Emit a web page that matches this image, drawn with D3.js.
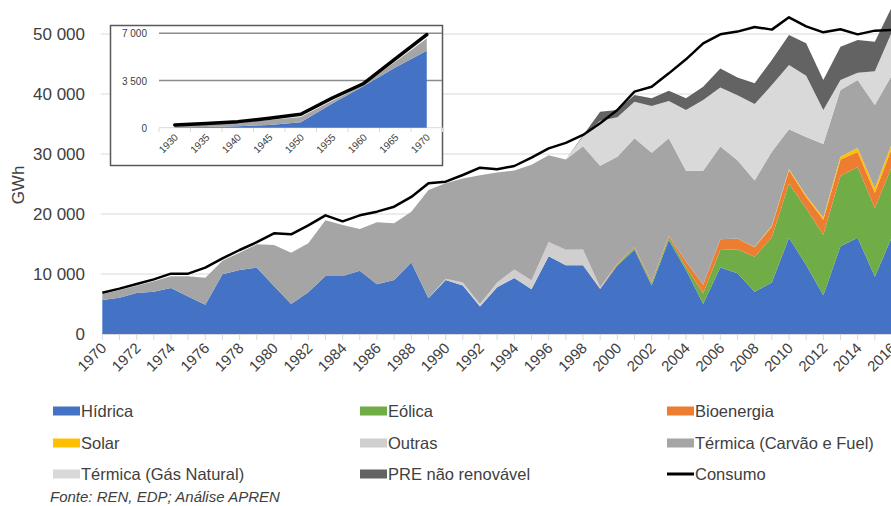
<!DOCTYPE html>
<html>
<head>
<meta charset="utf-8">
<script src="https://cdn.jsdelivr.net/npm/d3@7"></script>
<style>
body { margin: 0; background: #fff; }
svg text { font-family: "Liberation Sans", Arial, sans-serif; fill: #404040; }
</style>
</head>
<body>
<div id="chart"></div>
<script>
// ---- data (GWh) ----
var years = [1970,1971,1972,1973,1974,1975,1976,1977,1978,1979,
  1980,1981,1982,1983,1984,1985,1986,1987,1988,1989,
  1990,1991,1992,1993,1994,1995,1996,1997,1998,1999,
  2000,2001,2002,2003,2004,2005,2006,2007,2008,2009,
  2010,2011,2012,2013,2014,2015,2016];

var hidrica = [5670,6060,6830,7060,7670,6230,4890,9940,10670,11060,
  8000,5000,6950,9670,9670,10550,8300,9000,11900,5940,
  9000,8100,4600,7800,9330,7440,12950,11450,11450,7500,
  11400,14050,8100,15670,10670,5050,11100,10110,7060,8580,
  16050,11500,6450,14620,16050,9560,16200];

var eolica = [0,0,0,0,0,0,0,0,0,0,
  0,0,0,0,0,0,0,0,0,0,
  0,0,0,0,0,0,0,0,0,0,
  150,250,350,450,500,1750,2900,4000,5800,7550,
  9050,9400,10100,11750,11800,11400,11800];

var bioenergia = [0,0,0,0,0,0,0,0,0,0,
  0,0,0,0,0,0,0,0,0,0,
  0,0,0,0,0,0,0,0,0,100,
  200,200,200,250,900,1400,1800,1800,1600,1780,
  2200,1950,2500,2700,2500,2600,3000];

var solar = [0,0,0,0,0,0,0,0,0,0,
  0,0,0,0,0,0,0,0,0,0,
  0,0,0,0,0,0,0,0,0,0,
  0,0,0,0,0,0,0,0,50,150,
  200,250,350,500,650,750,850];

var outras = [0,0,0,0,0,0,0,0,0,0,
  0,0,0,0,0,0,0,0,0,0,
  200,500,400,800,1400,1500,2400,2600,2650,200,
  0,0,0,0,0,0,0,0,0,0,
  0,0,0,0,0,0,0];

var termicaCF = [940,1270,1230,1720,1940,3380,4500,2280,2890,3880,
  6830,8560,8160,9280,8500,6950,10310,9440,8490,18060,
  15910,17300,21450,18300,16520,19260,14430,15050,17200,20250,
  17810,18110,21570,16240,15150,19020,15470,13060,11090,12330,
  6610,9730,12270,11100,11330,13860,11320];

var termicaGN = [0,0,0,0,0,0,0,0,0,0,
  0,0,0,0,0,0,0,0,0,0,
  0,0,0,0,0,0,0,0,1600,7500,
  6550,6110,7780,6220,10110,11780,9800,10830,12730,11110,
  10720,10200,5660,1660,1230,5610,7220];

var preNR = [0,0,0,0,0,0,0,0,0,0,
  0,0,0,0,0,0,0,0,0,0,
  0,0,0,0,0,0,0,0,200,1490,
  1220,1110,1280,1730,1950,2220,3170,2950,3450,4170,
  5000,5440,5000,5560,5440,4940,4170];

var consumo = [6890,7560,8330,9110,10060,10060,11060,12610,14000,15300,
  16780,16610,18100,19780,18780,19780,20390,21220,22850,25110,
  25390,26500,27720,27450,28000,29390,30940,31850,33170,35110,
  37330,40390,41220,43440,45780,48440,49950,50400,51170,50730,
  52780,51280,50280,50780,49940,50560,50670];

var yTicks = [0, 10000, 20000, 30000, 40000, 50000];

// inset 1930-1970
var insetYears = [1930,1935,1940,1945,1950,1955,1960,1965,1970];
var insetHidrica = [30,60,110,200,400,1800,3100,4470,5700];
var insetTermica = [150,210,260,370,390,190,70,420,920];
var insetConsumo = [200,320,450,700,1000,2200,3280,5100,6900];
var insetYTicks = [0, 3500, 7000];

var seriesKeys = ["hidrica","eolica","bioenergia","solar","outras","termicaCF","termicaGN","preNR"];
var seriesNames = {
  hidrica: "Hídrica", eolica: "Eólica", bioenergia: "Bioenergia", solar: "Solar",
  outras: "Outras", termicaCF: "Térmica (Carvão e Fuel)", termicaGN: "Térmica (Gás Natural)",
  preNR: "PRE não renovável"
};
var colors = {
  hidrica: "#4472c4", eolica: "#70ad47", bioenergia: "#ed7d31", solar: "#ffc000",
  outras: "#d0cece", termicaCF: "#a5a5a5", termicaGN: "#d9d9d9", preNR: "#636363"
};

// ---- chart ----
var width = 891, height = 506;
var fmt = function(d) { return d3.format(",")(d).replace(/,/g, " "); };

var svg = d3.select("#chart").append("svg")
  .attr("width", width)
  .attr("height", height);

var x = d3.scaleLinear().domain([1970, 2016]).range([102.3, 892]);
var y = d3.scaleLinear().domain([0, 50000]).range([334, 34]);

var rows = years.map(function(yr, i) {
  return {
    year: yr, hidrica: hidrica[i], eolica: eolica[i], bioenergia: bioenergia[i],
    solar: solar[i], outras: outras[i], termicaCF: termicaCF[i],
    termicaGN: termicaGN[i], preNR: preNR[i], consumo: consumo[i]
  };
});

// gridlines
svg.selectAll(".grid")
  .data(yTicks.slice(1))
  .enter().append("line")
  .attr("class", "grid")
  .attr("x1", 101).attr("x2", width)
  .attr("y1", function(d) { return y(d); })
  .attr("y2", function(d) { return y(d); })
  .style("stroke", "#d9d9d9")
  .style("stroke-width", 1);

// stacked areas
var stack = d3.stack().keys(seriesKeys);
var layers = stack(rows);

var area = d3.area()
  .x(function(d) { return x(d.data.year); })
  .y0(function(d) { return y(d[0]); })
  .y1(function(d) { return y(d[1]); });

svg.selectAll(".layer")
  .data(layers)
  .enter().append("path")
  .attr("class", "layer")
  .style("fill", function(d) { return colors[d.key]; })
  .attr("d", area);

// x axis line + ticks
svg.append("line")
  .attr("x1", 102).attr("x2", width)
  .attr("y1", 334.5).attr("y2", 334.5)
  .style("stroke", "#d9d9d9");

svg.selectAll(".xtick")
  .data(years)
  .enter().append("line")
  .attr("class", "xtick")
  .attr("x1", function(d) { return x(d); })
  .attr("x2", function(d) { return x(d); })
  .attr("y1", 334).attr("y2", 340)
  .style("stroke", "#d9d9d9");

svg.selectAll(".xlabel")
  .data(years.filter(function(d) { return d % 2 === 0; }))
  .enter().append("text")
  .attr("class", "xlabel")
  .attr("text-anchor", "end")
  .attr("transform", function(d) { return "translate(" + (x(d) + 5) + ",349) rotate(-45)"; })
  .style("font-size", "15px")
  .text(function(d) { return d; });

// y labels
svg.selectAll(".ylabel")
  .data(yTicks)
  .enter().append("text")
  .attr("class", "ylabel")
  .attr("text-anchor", "end")
  .attr("x", 85)
  .attr("y", function(d) { return y(d) + 6; })
  .style("font-size", "17px")
  .text(fmt);

svg.append("text")
  .attr("transform", "translate(24,185) rotate(-90)")
  .attr("text-anchor", "middle")
  .style("font-size", "17px")
  .text("GWh");

// consumption line
var line = d3.line()
  .x(function(d) { return x(d.year); })
  .y(function(d) { return y(d.consumo); });

svg.append("path")
  .datum(rows)
  .attr("d", line)
  .style("fill", "none")
  .style("stroke", "#000")
  .style("stroke-width", 2.5)
  .style("stroke-linejoin", "round");

// ---- inset ----
var inset = svg.append("g");
inset.append("rect")
  .attr("x", 110.5).attr("y", 25.5)
  .attr("width", 332).attr("height", 140)
  .style("fill", "#fff")
  .style("stroke", "#595959")
  .style("stroke-width", 1.5);

var ix = d3.scaleBand().domain(insetYears).range([159, 442.5]);
var iy = d3.scaleLinear().domain([0, 7000]).range([127.7, 33.3]);
var icx = function(d) { return ix(d) + ix.bandwidth() / 2; };

inset.selectAll(".igrid")
  .data(insetYTicks)
  .enter().append("line")
  .attr("x1", 159).attr("x2", function(d) { return d === 0 ? 442.5 : 442; })
  .attr("y1", function(d) { return iy(d); })
  .attr("y2", function(d) { return iy(d); })
  .style("stroke", function(d) { return d === 0 ? "#d9d9d9" : "#8c8c8c"; })
  .style("stroke-width", function(d) { return d === 0 ? 1 : 1.5; });

inset.selectAll(".itick")
  .data(insetYears.concat([null]))
  .enter().append("line")
  .attr("x1", function(d, i) { return 159 + i * ix.bandwidth(); })
  .attr("x2", function(d, i) { return 159 + i * ix.bandwidth(); })
  .attr("y1", 128).attr("y2", 132)
  .style("stroke", "#d9d9d9");

var irows = insetYears.map(function(yr, i) {
  return { year: yr, hidrica: insetHidrica[i], termica: insetTermica[i], consumo: insetConsumo[i] };
});
var ilayers = d3.stack().keys(["hidrica", "termica"])(irows);
var iarea = d3.area()
  .x(function(d) { return icx(d.data.year); })
  .y0(function(d) { return iy(d[0]); })
  .y1(function(d) { return iy(d[1]); });

inset.selectAll(".ilayer")
  .data(ilayers)
  .enter().append("path")
  .style("fill", function(d) { return d.key === "hidrica" ? colors.hidrica : colors.termicaCF; })
  .attr("d", iarea);

inset.append("path")
  .datum(irows)
  .attr("d", d3.line()
    .x(function(d) { return icx(d.year); })
    .y(function(d) { return iy(d.consumo); }))
  .style("fill", "none")
  .style("stroke", "#000")
  .style("stroke-width", 3.5)
  .style("stroke-linejoin", "round")
  .style("stroke-linecap", "round");

inset.selectAll(".iylabel")
  .data(insetYTicks)
  .enter().append("text")
  .attr("text-anchor", "end")
  .attr("x", 147)
  .attr("y", function(d) { return iy(d) + 4; })
  .style("font-size", "10px")
  .text(fmt);

inset.selectAll(".ixlabel")
  .data(insetYears)
  .enter().append("text")
  .attr("text-anchor", "end")
  .attr("transform", function(d) { return "translate(" + (icx(d) + 4) + ",138) rotate(-45)"; })
  .style("font-size", "10px")
  .text(function(d) { return d; });

// ---- legend ----
var legendItems = seriesKeys.concat(["consumo"]);
var colX = [53, 360, 667];
var rowY = [411, 443, 474];

var legend = svg.selectAll(".legend")
  .data(legendItems)
  .enter().append("g")
  .attr("class", "legend")
  .attr("transform", function(d, i) {
    return "translate(" + colX[i % 3] + "," + rowY[Math.floor(i / 3)] + ")";
  });

legend.append("rect")
  .filter(function(d) { return d !== "consumo"; })
  .attr("x", 0).attr("y", -4.5)
  .attr("width", 27).attr("height", 9)
  .style("fill", function(d) { return colors[d]; });

legend.filter(function(d) { return d === "consumo"; })
  .append("line")
  .attr("x1", 0).attr("x2", 27)
  .attr("y1", 0).attr("y2", 0)
  .style("stroke", "#000")
  .style("stroke-width", 3);

legend.append("text")
  .attr("x", 28)
  .attr("y", 6)
  .style("font-size", "16.5px")
  .text(function(d) { return d === "consumo" ? "Consumo" : seriesNames[d]; });

svg.append("text")
  .attr("x", 50)
  .attr("y", 502)
  .style("font-size", "15px")
  .style("font-style", "italic")
  .text("Fonte: REN, EDP; Análise APREN");
</script>
</body>
</html>
